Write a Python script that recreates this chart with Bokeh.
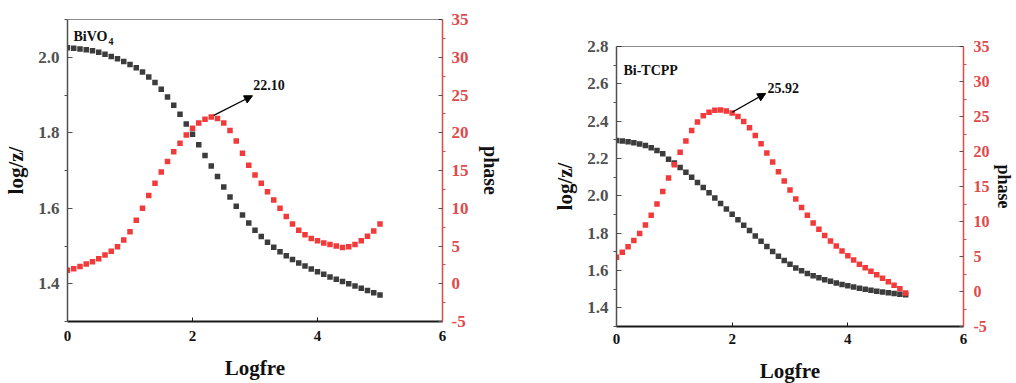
from bokeh.plotting import figure
from bokeh.models import (Range1d, LinearAxis, Label, Arrow, NormalHead, FixedTicker,
                          Span, Spacer, CustomJSTickFormatter)
from bokeh.layouts import row, column
from bokeh.embed import file_html
from bokeh.resources import INLINE

# ---------------- data ----------------
logfre = [0.0, 0.1, 0.2, 0.3, 0.4, 0.5, 0.6, 0.7, 0.8, 0.9,
          1.0, 1.1, 1.2, 1.3, 1.4, 1.5, 1.6, 1.7, 1.8, 1.9,
          2.0, 2.1, 2.2, 2.3, 2.4, 2.5, 2.6, 2.7, 2.8, 2.9,
          3.0, 3.1, 3.2, 3.3, 3.4, 3.5, 3.6, 3.7, 3.8, 3.9,
          4.0, 4.1, 4.2, 4.3, 4.4, 4.5, 4.6, 4.7, 4.8, 4.9, 5.0]

bivo4_logz = [2.025, 2.024, 2.022, 2.020, 2.017, 2.013, 2.008, 2.002, 1.996, 1.989,
              1.981, 1.972, 1.961, 1.948, 1.933, 1.915, 1.895, 1.873, 1.849, 1.823,
              1.796, 1.768, 1.740, 1.712, 1.684, 1.656, 1.630, 1.605, 1.582, 1.561,
              1.542, 1.525, 1.510, 1.497, 1.485, 1.474, 1.464, 1.455, 1.447, 1.439,
              1.432, 1.425, 1.418, 1.412, 1.406, 1.400, 1.394, 1.388, 1.382, 1.376, 1.370]

bivo4_phase = [1.8, 2.0, 2.3, 2.6, 2.9, 3.3, 3.8, 4.3, 4.9, 5.8,
               6.9, 8.4, 10.0, 11.7, 13.3, 14.8, 16.2, 17.5, 18.6, 19.7,
               20.6, 21.3, 21.8, 22.1, 21.9, 21.3, 20.3, 18.9, 17.3, 15.7,
               14.4, 13.3, 12.2, 11.1, 10.0, 8.9, 7.9, 7.1, 6.5, 6.0,
               5.7, 5.4, 5.2, 5.0, 4.8, 4.9, 5.2, 5.7, 6.3, 7.0, 7.9]

tcpp_logz = [2.296, 2.294, 2.290, 2.285, 2.278, 2.270, 2.258, 2.243, 2.225, 2.196,
             2.176, 2.152, 2.127, 2.100, 2.072, 2.044, 2.016, 1.988, 1.959, 1.930,
             1.901, 1.872, 1.843, 1.814, 1.785, 1.757, 1.729, 1.702, 1.677, 1.654,
             1.633, 1.614, 1.598, 1.584, 1.572, 1.561, 1.551, 1.542, 1.533, 1.525,
             1.518, 1.511, 1.505, 1.499, 1.494, 1.489, 1.485, 1.481, 1.477, 1.473, 1.470]

tcpp_phase = [4.9, 5.6, 6.4, 7.3, 8.3, 9.5, 10.9, 12.5, 14.3, 16.2,
              18.1, 19.9, 21.5, 23.0, 24.2, 25.1, 25.6, 25.9, 25.92, 25.8,
              25.5, 25.0, 24.3, 23.4, 22.3, 21.1, 19.8, 18.5, 17.1, 15.8,
              14.5, 13.2, 12.0, 10.9, 9.8, 8.9, 8.0, 7.2, 6.5, 5.8,
              5.1, 4.5, 3.9, 3.4, 2.9, 2.4, 1.9, 1.4, 0.9, 0.4, -0.2]

x_ticks = [0, 2, 4, 6]
left_ticks_a = [1.4, 1.6, 1.8, 2.0]
left_minor_a = [1.3, 1.5, 1.7, 1.9, 2.1]
left_ticks_b = [1.4, 1.6, 1.8, 2.0, 2.2, 2.4, 2.6, 2.8]
left_minor_b = [1.3, 1.5, 1.7, 1.9, 2.1, 2.3, 2.5, 2.7]
phase_ticks = [-5, 0, 5, 10, 15, 20, 25, 30, 35]
phase_minor = [-2.5, 2.5, 7.5, 12.5, 17.5, 22.5, 27.5, 32.5]

peak_a = "22.10"
peak_b = "25.92"

FONT = "Liberation Serif"
BLACK_S = "#3c3c3c"
RED_S = "#f23a3a"
RED_AX = "#e04a4a"
GREY_AX = "#505050"


def make_panel(logz, phase, yr, yticks, yminor, title, sub, title_xy,
               peak_text, arrow, text_xy, fw, fh, bl, br, bt, bb,
               x_lab_sd, r_lab_sd, r_ax_sd, r_font, r_lab_font):
    p = figure(frame_width=fw, frame_height=fh,
               x_range=Range1d(0, 6), y_range=Range1d(*yr),
               output_backend="svg", toolbar_location=None,
               min_border_left=bl, min_border_right=br,
               min_border_top=bt, min_border_bottom=bb,
               background_fill_color="white", border_fill_color="white")
    p.outline_line_color = None
    p.xgrid.visible = False
    p.ygrid.visible = False
    p.extra_y_ranges = {"ph": Range1d(-5, 35)}

    # bottom axis
    xa = p.xaxis[0]
    xa.ticker = FixedTicker(ticks=x_ticks)
    xa.axis_line_color = "#1a1a1a"
    xa.axis_line_width = 2
    xa.major_tick_in = 4
    xa.major_tick_out = 0
    xa.minor_tick_line_color = None
    xa.major_tick_line_color = "#1a1a1a"
    xa.major_label_text_font = FONT
    xa.major_label_text_font_style = "bold"
    xa.major_label_text_font_size = "15px"
    xa.major_label_text_color = "#111111"
    xa.major_label_standoff = x_lab_sd
    xa.axis_label = "Logfre"
    xa.axis_label_text_font = FONT
    xa.axis_label_text_font_style = "bold"
    xa.axis_label_text_font_size = "21px"
    xa.axis_label_text_color = "#111111"
    xa.axis_label_standoff = 12

    # left axis
    ya = p.yaxis[0]
    ya.ticker = FixedTicker(ticks=yticks, minor_ticks=yminor)
    ya.formatter = CustomJSTickFormatter(code="return tick.toFixed(1);")
    ya.axis_line_color = GREY_AX
    ya.axis_line_width = 1.5
    ya.major_tick_in = 5
    ya.major_tick_out = 0
    ya.minor_tick_in = 0
    ya.minor_tick_out = 3
    ya.major_tick_line_color = GREY_AX
    ya.minor_tick_line_color = GREY_AX
    ya.major_label_text_font = FONT
    ya.major_label_text_font_style = "bold"
    ya.major_label_text_font_size = "17px"
    ya.major_label_text_color = GREY_AX
    ya.major_label_standoff = 5
    ya.axis_label = "log/z/"
    ya.axis_label_text_font = FONT
    ya.axis_label_text_font_style = "bold"
    ya.axis_label_text_font_size = "21px"
    ya.axis_label_text_color = "#111111"
    ya.axis_label_standoff = 7

    # top frame line
    p.add_layout(Span(location=yr[1], dimension="width",
                      line_color="#1a1a1a", line_width=1.2))

    # right axis (phase)
    ra = LinearAxis(y_range_name="ph",
                    ticker=FixedTicker(ticks=phase_ticks, minor_ticks=phase_minor))
    ra.formatter = CustomJSTickFormatter(code="return tick.toFixed(0);")
    ra.axis_line_color = RED_AX
    ra.axis_line_width = 1.5
    ra.major_tick_in = 4
    ra.major_tick_out = 0
    ra.minor_tick_in = 0
    ra.minor_tick_out = 3
    ra.major_tick_line_color = "#555555"
    ra.minor_tick_line_color = RED_AX
    ra.major_label_text_font = FONT
    ra.major_label_text_font_style = "bold"
    ra.major_label_text_font_size = r_font
    ra.major_label_text_color = RED_AX
    ra.major_label_standoff = r_lab_sd
    ra.axis_label = "phase"
    ra.axis_label_text_font = FONT
    ra.axis_label_text_font_style = "bold"
    ra.axis_label_text_font_size = r_lab_font
    ra.axis_label_text_color = "#111111"
    ra.axis_label_standoff = r_ax_sd
    p.add_layout(ra, "right")

    p.scatter(logfre, logz, marker="square", size=5.5,
              fill_color=BLACK_S, line_color=None)
    p.scatter(logfre, phase, marker="square", size=5.5,
              fill_color=RED_S, line_color=None, y_range_name="ph")

    t = Label(x=title_xy[0], y=title_xy[1], text=title, text_font=FONT,
              text_font_style="bold", text_font_size="14px",
              text_baseline="middle", text_color="#111111")
    p.add_layout(t)
    if sub:
        s = Label(x=title_xy[0], y=title_xy[1], text=sub, text_font=FONT,
                  text_font_style="bold", text_font_size="10px",
                  x_offset=35, y_offset=-5,
                  text_baseline="middle", text_color="#111111")
        p.add_layout(s)

    p.add_layout(Arrow(end=NormalHead(size=8, fill_color="black", line_color="black"),
                       x_start=arrow[0], y_start=arrow[1], x_end=arrow[2], y_end=arrow[3],
                       y_range_name="ph", line_color="black", line_width=1.3))
    p.add_layout(Label(x=text_xy[0], y=text_xy[1], text=peak_text, y_range_name="ph",
                       text_font=FONT, text_font_style="bold", text_font_size="14px",
                       text_baseline="middle", text_color="#111111"))
    return p


p1 = make_panel(bivo4_logz, bivo4_phase, (1.3, 2.1), left_ticks_a, left_minor_a,
                "BiVO", "4", (0.096, 2.055), peak_a,
                (2.34, 22.3, 2.96, 24.9), (2.97, 26.3),
                375, 302, 67, 98, 19, 62, 9, 6, 8, "17px", "20px")
p2 = make_panel(tcpp_logz, tcpp_phase, (1.3, 2.8), left_ticks_b, left_minor_b,
                "Bi-TCPP", None, (0.12, 2.671), peak_b,
                (2.0, 25.6, 2.58, 28.3), (2.61, 29.1),
                347, 280, 76, 53, 19, 57, 7, 7, 1, "16px", "18px")

layout = row(column(p1), column(Spacer(width=476, height=27), p2))
open("out.html", "w").write(file_html(layout, INLINE))
